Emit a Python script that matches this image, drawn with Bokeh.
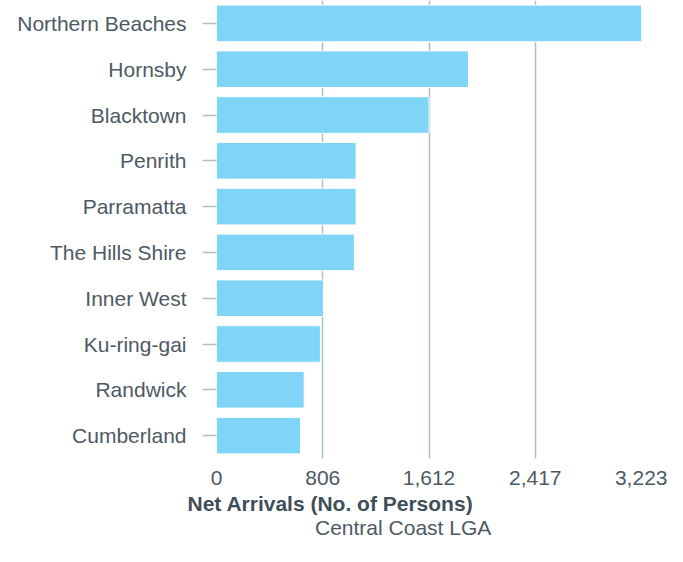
from bokeh.plotting import figure
from bokeh.layouts import column
from bokeh.models import (FactorRange, Range1d, FixedTicker, NumeralTickFormatter,
                          Title, Legend, LegendItem)
from bokeh.embed import file_html
from bokeh.resources import INLINE

categories = ["Northern Beaches", "Hornsby", "Blacktown", "Penrith", "Parramatta",
              "The Hills Shire", "Inner West", "Ku-ring-gai", "Randwick", "Cumberland"]
values = [3223, 1911, 1612, 1059, 1059, 1046, 811, 788, 665, 637]
x_ticks = [0, 805.75, 1611.5, 2417.25, 3223]
series_name = "Central Coast LGA"
x_title = "Net Arrivals (No. of Persons)"

FONT = "Liberation Sans"
TEXT = "#4d5a64"
GRID = "#a9c1c9"
BAR = "#80d4f6"

p = figure(width=667, height=522, frame_width=425, frame_height=458,
           output_backend="svg", toolbar_location=None,
           y_range=FactorRange(factors=list(reversed(categories)), range_padding=0),
           x_range=Range1d(0, 3223),
           min_border_left=216, min_border_right=26, min_border_top=0,
           min_border_bottom=0)
p.outline_line_color = None

r = p.hbar(y=categories, right=values, left=0, height=0.8,
           fill_color=BAR, line_color="white", line_width=1)

p.xaxis.ticker = FixedTicker(ticks=x_ticks)
p.xaxis.formatter = NumeralTickFormatter(format="0,0")
p.xaxis.axis_line_color = None
p.xaxis.major_tick_line_color = None
p.xaxis.minor_tick_line_color = None
p.xaxis.major_tick_out = 0
p.xaxis.major_label_standoff = 12
p.xaxis.major_label_text_font = FONT
p.xaxis.major_label_text_font_size = "21px"
p.xaxis.major_label_text_color = TEXT

p.yaxis.axis_line_color = None
p.yaxis.major_tick_line_color = GRID
p.yaxis.major_tick_line_width = 1.5
p.yaxis.major_tick_out = 14
p.yaxis.major_tick_in = 0
p.yaxis.major_label_standoff = 16
p.yaxis.major_label_text_font = FONT
p.yaxis.major_label_text_font_size = "21px"
p.yaxis.major_label_text_color = TEXT

p.xgrid.ticker = FixedTicker(ticks=x_ticks)
p.xgrid.grid_line_color = GRID
p.xgrid.grid_line_width = 1.5
p.ygrid.grid_line_color = None

title = Title(text=x_title, align="left", offset=-29, standoff=4,
              text_font=FONT, text_font_size="21px", text_font_style="bold",
              text_color="#3f4e59")
p.add_layout(title, "below")

# legend strip below the chart (its frame is aligned with the main frame)
lg = figure(width=667, height=24, frame_width=425, frame_height=24,
            output_backend="svg", toolbar_location=None,
            x_range=Range1d(0, 1), y_range=Range1d(0, 1),
            x_axis_location=None, y_axis_location=None,
            min_border_left=216, min_border_right=26, min_border_top=0, min_border_bottom=0)
lg.outline_line_color = None
lg.grid.grid_line_color = None
key = lg.hbar(y=[], right=[], left=0, height=0.8,
              fill_color=BAR, line_color="white", line_width=1)
legend = Legend(items=[LegendItem(label=series_name, renderers=[key])],
                location=(60, 0), padding=0, margin=0, border_line_color=None,
                background_fill_alpha=0, glyph_width=21, glyph_height=21,
                label_standoff=18, label_text_font=FONT,
                label_text_font_size="21px", label_text_color=TEXT)
lg.add_layout(legend)

layout = column(p, lg, spacing=0)
open("out.html", "w").write(file_html(layout, INLINE))
